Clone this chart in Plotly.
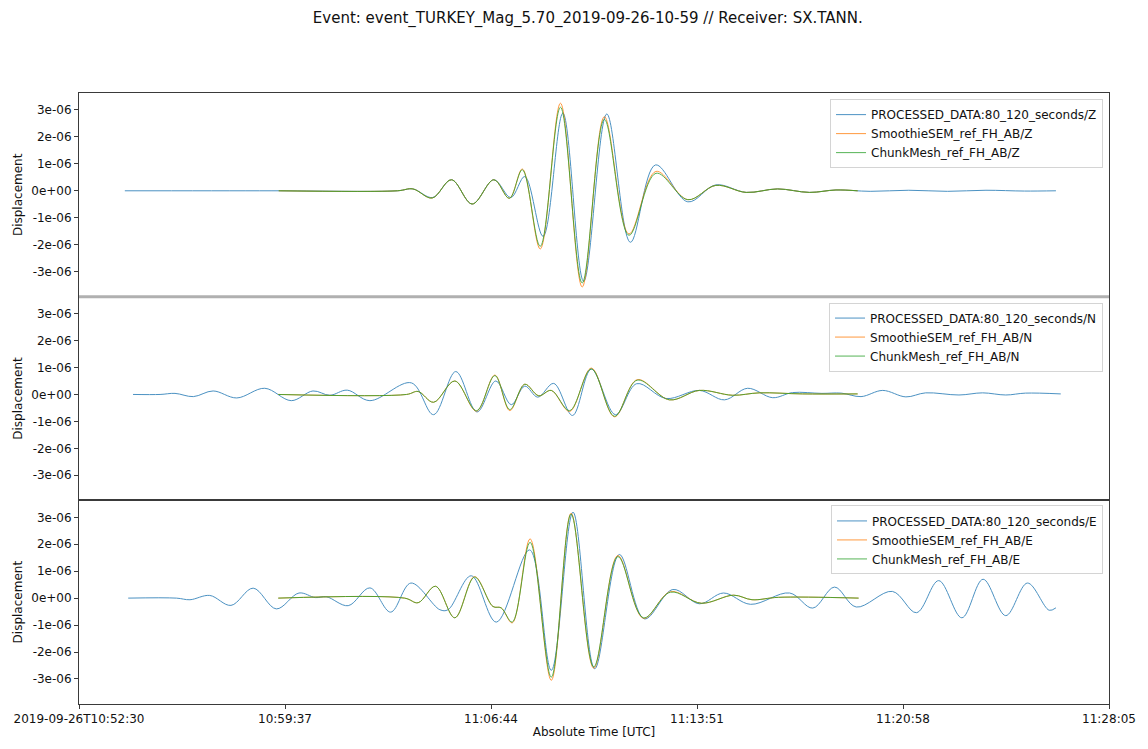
import pandas as pd
import plotly.graph_objects as go
from plotly.subplots import make_subplots

# ---------------- data (seconds after 2019-09-26 10:52:30, displacement in 1e-6) ----------------
START = "2019-09-26 10:52:30"
UNIT = 1e-6

COMPONENTS = ["Z", "N", "E"]

# Z component
z_obs_t = [95, 400, 660, 692, 733, 772, 815, 860, 895, 924, 962, 1003, 1046, 1094, 1143, 1195,
           1262, 1320, 1383, 1448, 1514, 1569, 1640, 1720, 1800, 1880, 1960, 2025]
z_obs_v = [0, 0, 0, 0.07, -0.25, 0.41, -0.49, 0.41, -0.25, 0.53, -1.69, 2.88, -3.36, 2.85, -1.91, 0.96,
           -0.41, 0.22, -0.06, 0.07, -0.06, 0.03, -0.02, 0.02, -0.02, 0.02, -0.01, 0.0]
z_syn_t = [414, 660, 692, 732, 772, 815, 860, 892, 919, 956, 998, 1043, 1089, 1140, 1196,
           1262, 1320, 1383, 1448, 1514, 1569, 1614]
z_smo_v = [0, 0, 0.07, -0.27, 0.41, -0.49, 0.41, -0.28, 0.81, -2.16, 3.25, -3.57, 2.75, -1.60, 0.72,
           -0.33, 0.20, -0.06, 0.07, -0.06, 0.03, 0.0]
z_chk_v = [0, 0, 0.07, -0.27, 0.41, -0.49, 0.41, -0.28, 0.78, -2.06, 3.10, -3.42, 2.65, -1.65, 0.65,
           -0.33, 0.20, -0.06, 0.07, -0.06, 0.03, 0.0]

# N component
n_obs_t = [112, 168, 199, 237, 278, 327, 385, 440, 485, 520, 556, 603, 689, 735, 781, 825, 864, 896,
           924, 951, 984, 1023, 1062, 1112, 1156, 1217, 1286, 1338, 1386, 1438, 1479, 1540, 1580,
           1621, 1666, 1714, 1755, 1824, 1873, 1921, 1962, 2035]
n_obs_v = [0, 0, 0.04, -0.08, 0.13, -0.13, 0.23, -0.23, 0.13, -0.03, 0.16, -0.23, 0.43, -0.75, 0.85,
           -0.65, 0.50, -0.38, 0.31, -0.10, 0.41, -0.78, 0.94, -0.75, 0.40, -0.15, 0.15, -0.20, 0.23,
           -0.12, 0.07, 0.04, 0.05, -0.08, 0.15, -0.09, 0.06, -0.02, 0.06, -0.02, 0.05, 0.02]
n_syn_t = [413, 679, 703, 735, 779, 824, 862, 893, 924, 953, 979, 1017, 1062, 1110, 1157, 1224,
           1286, 1355, 1410, 1500, 1614]
n_smo_v = [0, 0, 0.11, -0.29, 0.50, -0.62, 0.72, -0.60, 0.38, -0.05, 0.15, -0.63, 0.98, -0.83, 0.55,
           -0.20, 0.15, -0.03, 0.06, 0.02, 0.02]
n_chk_v = [0, 0, 0.11, -0.29, 0.50, -0.60, 0.70, -0.56, 0.38, -0.05, 0.15, -0.60, 0.95, -0.81, 0.53,
           -0.20, 0.15, -0.03, 0.06, 0.02, 0.02]

# E component
e_obs_t = [102, 202, 230, 271, 315, 361, 409, 456, 490, 513, 558, 603, 646, 688, 748, 765, 813, 865,
           934, 979, 1024, 1069, 1120, 1172, 1231, 1286, 1336, 1392, 1473, 1521, 1566, 1611, 1686,
           1736, 1782, 1830, 1874, 1921, 1966, 2011, 2025]
e_obs_v = [0, 0, -0.06, 0.10, -0.27, 0.37, -0.40, 0.19, 0.02, 0.05, -0.28, 0.38, -0.52, 0.56, -0.43,
           -0.43, 0.83, -0.89, 1.79, -2.68, 3.19, -2.62, 1.62, -0.77, 0.32, -0.21, 0.19, -0.23, 0.19,
           -0.37, 0.41, -0.33, 0.25, -0.54, 0.65, -0.73, 0.70, -0.65, 0.56, -0.45, -0.36]
e_syn_t = [413, 675, 703, 739, 779, 820, 858, 875, 898, 935, 979, 1020, 1067, 1117, 1170, 1226,
           1290, 1357, 1395, 1450, 1616]
e_smo_v = [0, 0, -0.17, 0.44, -0.73, 0.80, -0.31, -0.36, -0.92, 2.20, -3.05, 3.15, -2.60, 1.58, -0.75,
           0.24, -0.19, 0.11, -0.06, 0.03, 0.0]
e_chk_v = [0, 0, -0.17, 0.44, -0.73, 0.78, -0.31, -0.36, -0.89, 2.07, -2.93, 3.12, -2.55, 1.54, -0.73,
           0.22, -0.19, 0.11, -0.06, 0.03, 0.0]

SERIES_NAMES = ["PROCESSED_DATA:80_120_seconds", "SmoothieSEM_ref_FH_AB", "ChunkMesh_ref_FH_AB"]

y_tick_vals = [-3e-06, -2e-06, -1e-06, 0, 1e-06, 2e-06, 3e-06]
y_tick_text = ["-3e-06", "-2e-06", "-1e-06", "0e+00", "1e-06", "2e-06", "3e-06"]

x_tick_vals = ["2019-09-26 10:52:30", "2019-09-26 10:59:37", "2019-09-26 11:06:44",
               "2019-09-26 11:13:51", "2019-09-26 11:20:58", "2019-09-26 11:28:05"]
x_tick_text = ["2019-09-26T10:52:30", "10:59:37", "11:06:44", "11:13:51", "11:20:58", "11:28:05"]
x_range = ["2019-09-26 10:52:30", "2019-09-26 11:28:05"]
y_range = [-3.93e-06, 3.63e-06]

TITLE = "Event: event_TURKEY_Mag_5.70_2019-09-26-10-59 // Receiver: SX.TANN."

# ---------------- figure ----------------
COLORS = ["#1f77b4", "#ff7f0e", "#2ca02c"]
FONT = "DejaVu Sans"
FS = 12
T0 = pd.Timestamp(START)


def to_time(secs):
    return T0 + pd.to_timedelta(secs, unit="s")


def scale(vals):
    return [v * UNIT for v in vals]


panels = [
    (z_obs_t, z_obs_v, z_syn_t, z_smo_v, z_chk_v),
    (n_obs_t, n_obs_v, n_syn_t, n_smo_v, n_chk_v),
    (e_obs_t, e_obs_v, e_syn_t, e_smo_v, e_chk_v),
]

fig = make_subplots(rows=3, cols=1, shared_xaxes=True, vertical_spacing=0)

legend_ids = ["legend", "legend2", "legend3"]
for i, (comp, (ot, ov, st, sv, cv)) in enumerate(zip(COMPONENTS, panels)):
    row = i + 1
    data = [(ot, ov), (st, sv), (st, cv)]
    for j, (tt, vv) in enumerate(data):
        fig.add_trace(
            go.Scatter(
                x=to_time(tt), y=scale(vv), mode="lines",
                line=dict(color=COLORS[j], width=1.0, shape="spline", smoothing=1.0),
                opacity=0.8,
                name=f"{SERIES_NAMES[j]}/{comp}",
                legend=legend_ids[i],
            ),
            row=row, col=1,
        )

axis_line = "#3a3a3a"
tick_font = dict(family=FONT, size=FS, color="#111")
for row in (1, 2, 3):
    fig.update_yaxes(
        row=row, col=1, range=y_range, tickvals=y_tick_vals, ticktext=y_tick_text,
        ticks="outside", ticklen=4, tickcolor=axis_line, showline=True, linecolor=axis_line,
        linewidth=1, mirror=True, showgrid=False, zeroline=False,
        tickfont=tick_font,
        title=dict(text="Displacement", font=tick_font, standoff=6),
    )
    fig.update_xaxes(
        row=row, col=1, type="date", range=x_range, showline=True, linecolor=axis_line,
        linewidth=1, mirror=True, showgrid=False, zeroline=False,
        tickvals=x_tick_vals, ticktext=x_tick_text,
        ticks="outside" if row == 3 else "", ticklen=4, tickcolor=axis_line,
        showticklabels=(row == 3),
        tickfont=tick_font,
    )
fig.update_xaxes(row=3, col=1, title=dict(text="Absolute Time [UTC]", font=tick_font, standoff=2))

legend_style = dict(
    xanchor="right", yanchor="top", bgcolor="rgba(255,255,255,0.85)",
    bordercolor="#d4d4d4", borderwidth=1, font=dict(family=FONT, size=FS, color="#111"),
    tracegroupgap=0, itemwidth=30,
)
fig.update_layout(
    legend=dict(x=0.9942, y=0.990, **legend_style),
    legend2=dict(x=0.9942, y=0.657, **legend_style),
    legend3=dict(x=0.9942, y=0.325, **legend_style),
)

# light-grey seam between the first and second panel
fig.add_shape(type="line", xref="paper", yref="paper", x0=0, x1=1, y0=2 / 3, y1=2 / 3,
              line=dict(color="#b0b0b0", width=3))

fig.update_layout(
    width=1148, height=749,
    margin=dict(l=79, r=38, t=93, b=41),
    paper_bgcolor="white", plot_bgcolor="white",
    title=dict(text=TITLE, x=0.512, xanchor="center", y=1 - 18 / 749, yanchor="middle",
               font=dict(family=FONT, size=15, color="#111")),
    font=dict(family=FONT, size=FS),
    showlegend=True,
)

fig.write_html("out.html")
